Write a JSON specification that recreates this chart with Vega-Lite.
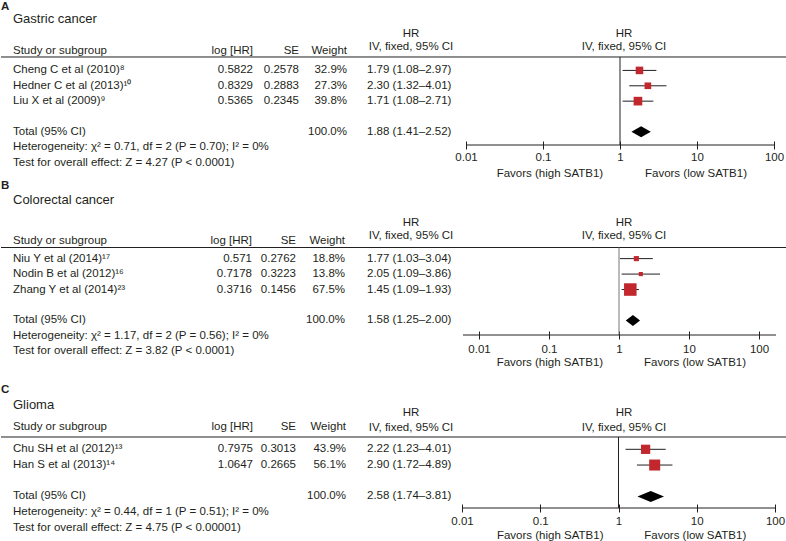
{
 "$schema": "https://vega.github.io/schema/vega-lite/v6.json",
 "padding": 0,
 "autosize": {"type": "pad"},
 "spacing": 0,
 "bounds": "flush",
 "config": {
  "view": {"stroke": null},
  "text": {"font": "Liberation Sans", "fontSize": 11.5, "fill": "#231f20"},
  "axis": {"labelFont": "Liberation Sans"}
 },
 "datasets": {
  "gastric": [
   {"line": 1, "kind": "study", "study": "Cheng C et al (2010)⁸", "loghr": 0.5822, "se": 0.2578, "w": 0.329, "ci": "1.79 (1.08–2.97)", "hr": 1.79, "lo": 1.08, "hi": 2.97},
   {"line": 2, "kind": "study", "study": "Hedner C et al (2013)¹⁰", "loghr": 0.8329, "se": 0.2883, "w": 0.273, "ci": "2.30 (1.32–4.01)", "hr": 2.30, "lo": 1.32, "hi": 4.01},
   {"line": 3, "kind": "study", "study": "Liu X et al (2009)⁹", "loghr": 0.5365, "se": 0.2345, "w": 0.398, "ci": "1.71 (1.08–2.71)", "hr": 1.71, "lo": 1.08, "hi": 2.71},
   {"line": 5, "kind": "total", "study": "Total (95% CI)", "w": 1.0, "ci": "1.88 (1.41–2.52)", "hr": 1.88, "lo": 1.41, "hi": 2.52},
   {"line": 6, "kind": "note", "study": "Heterogeneity: χ² = 0.71, df = 2 (P = 0.70); I² = 0%"},
   {"line": 7, "kind": "note", "study": "Test for overall effect: Z = 4.27 (P < 0.0001)"}
  ],
  "colorectal": [
   {"line": 1, "kind": "study", "study": "Niu Y et al (2014)¹⁷", "loghr": 0.571, "se": 0.2762, "w": 0.188, "ci": "1.77 (1.03–3.04)", "hr": 1.77, "lo": 1.03, "hi": 3.04},
   {"line": 2, "kind": "study", "study": "Nodin B et al (2012)¹⁶", "loghr": 0.7178, "se": 0.3223, "w": 0.138, "ci": "2.05 (1.09–3.86)", "hr": 2.05, "lo": 1.09, "hi": 3.86},
   {"line": 3, "kind": "study", "study": "Zhang Y et al (2014)²³", "loghr": 0.3716, "se": 0.1456, "w": 0.675, "ci": "1.45 (1.09–1.93)", "hr": 1.45, "lo": 1.09, "hi": 1.93},
   {"line": 5, "kind": "total", "study": "Total (95% CI)", "w": 1.0, "ci": "1.58 (1.25–2.00)", "hr": 1.58, "lo": 1.25, "hi": 2.00},
   {"line": 6, "kind": "note", "study": "Heterogeneity: χ² = 1.17, df = 2 (P = 0.56); I² = 0%"},
   {"line": 7, "kind": "note", "study": "Test for overall effect: Z = 3.82 (P < 0.0001)"}
  ],
  "glioma": [
   {"line": 1, "kind": "study", "study": "Chu SH et al (2012)¹³", "loghr": 0.7975, "se": 0.3013, "w": 0.439, "ci": "2.22 (1.23–4.01)", "hr": 2.22, "lo": 1.23, "hi": 4.01},
   {"line": 2, "kind": "study", "study": "Han S et al (2013)¹⁴", "loghr": 1.0647, "se": 0.2665, "w": 0.561, "ci": "2.90 (1.72–4.89)", "hr": 2.90, "lo": 1.72, "hi": 4.89},
   {"line": 4, "kind": "total", "study": "Total (95% CI)", "w": 1.0, "ci": "2.58 (1.74–3.81)", "hr": 2.58, "lo": 1.74, "hi": 3.81},
   {"line": 5, "kind": "note", "study": "Heterogeneity: χ² = 0.44, df = 1 (P = 0.51); I² = 0%"},
   {"line": 6, "kind": "note", "study": "Test for overall effect: Z = 4.75 (P < 0.00001)"}
  ],
  "panels": [
   {"panel": "A", "name": "Gastric cancer"},
   {"panel": "B", "name": "Colorectal cancer"},
   {"panel": "C", "name": "Glioma"}
  ],
  "heads": [
   {"row": "sub", "col": 1, "txt": "Study or subgroup"},
   {"row": "sub", "col": 2, "txt": "log [HR]"},
   {"row": "sub", "col": 3, "txt": "SE"},
   {"row": "sub", "col": 4, "txt": "Weight"},
   {"row": "hr", "col": 6, "txt": "HR"},
   {"row": "hr", "col": 7, "txt": "HR"},
   {"row": "iv", "col": 6, "txt": "IV, fixed, 95% CI"},
   {"row": "iv", "col": 7, "txt": "IV, fixed, 95% CI"}
  ],
  "one": [{"k": 1}]
 },
 "vconcat": [
  {
   "width": 786, "height": 143,
   "resolve": {"scale": {"x": "independent"}},
   "layer": [
    {"layer": [
     {"data": {"name": "gastric"},
      "mark": {"type": "text", "align": "left", "baseline": "middle"},
      "encoding": {"x": {"datum": 1, "type": "quantitative", "scale": {"domain": [0,1,2,3,4,5,6,7,8], "range": [0,12,252,298,346,366,410,623,786], "nice": false, "zero": false}, "axis": null},
       "y": {"field": "line", "type": "quantitative", "scale": {"domain": [-3.454, 5.855], "reverse": true, "nice": false, "zero": false}, "axis": null}, "text": {"field": "study", "type": "nominal"}}},
     {"data": {"name": "gastric"}, "transform": [{"filter": "datum.kind == 'study'"}],
      "mark": {"type": "text", "align": "right", "baseline": "middle"},
      "encoding": {"x": {"datum": 2, "type": "quantitative", "scale": {"domain": [0,1,2,3,4,5,6,7,8], "range": [0,12,252,298,346,366,410,623,786], "nice": false, "zero": false}, "axis": null},
       "y": {"field": "line", "type": "quantitative", "scale": {"domain": [-3.454, 5.855], "reverse": true, "nice": false, "zero": false}, "axis": null}, "text": {"field": "loghr", "type": "nominal"}}},
     {"data": {"name": "gastric"}, "transform": [{"filter": "datum.kind == 'study'"}],
      "mark": {"type": "text", "align": "right", "baseline": "middle"},
      "encoding": {"x": {"datum": 3, "type": "quantitative", "scale": {"domain": [0,1,2,3,4,5,6,7,8], "range": [0,12,252,298,346,366,410,623,786], "nice": false, "zero": false}, "axis": null},
       "y": {"field": "line", "type": "quantitative", "scale": {"domain": [-3.454, 5.855], "reverse": true, "nice": false, "zero": false}, "axis": null}, "text": {"field": "se", "type": "nominal"}}},
     {"data": {"name": "gastric"}, "transform": [{"filter": "datum.kind != 'note'"}],
      "mark": {"type": "text", "align": "right", "baseline": "middle"},
      "encoding": {"x": {"datum": 4, "type": "quantitative", "scale": {"domain": [0,1,2,3,4,5,6,7,8], "range": [0,12,252,298,346,366,410,623,786], "nice": false, "zero": false}, "axis": null},
       "y": {"field": "line", "type": "quantitative", "scale": {"domain": [-3.454, 5.855], "reverse": true, "nice": false, "zero": false}, "axis": null}, "text": {"field": "w", "type": "quantitative", "format": ".1%"}}},
     {"data": {"name": "gastric"}, "transform": [{"filter": "datum.kind != 'note'"}],
      "mark": {"type": "text", "align": "left", "baseline": "middle"},
      "encoding": {"x": {"datum": 5, "type": "quantitative", "scale": {"domain": [0,1,2,3,4,5,6,7,8], "range": [0,12,252,298,346,366,410,623,786], "nice": false, "zero": false}, "axis": null},
       "y": {"field": "line", "type": "quantitative", "scale": {"domain": [-3.454, 5.855], "reverse": true, "nice": false, "zero": false}, "axis": null}, "text": {"field": "ci", "type": "nominal"}}},
     {"data": {"name": "one"},
      "mark": {"type": "rule", "color": "#231f20", "strokeWidth": 1},
      "encoding": {"x": {"datum": 0, "type": "quantitative", "scale": {"domain": [0,1,2,3,4,5,6,7,8], "range": [0,12,252,298,346,366,410,623,786], "nice": false, "zero": false}, "axis": null}, "x2": {"datum": 8},
       "y": {"datum": 0.126, "type": "quantitative", "scale": {"domain": [-3.454, 5.855], "reverse": true, "nice": false, "zero": false}, "axis": null}}},
     {"data": {"name": "panels"}, "transform": [{"filter": "datum.panel == 'A'"}],
      "mark": {"type": "text", "align": "left", "baseline": "middle", "fontWeight": "bold", "fontSize": 11.5},
      "encoding": {"x": {"datum": 0, "type": "quantitative", "scale": {"domain": [0,1,2,3,4,5,6,7,8], "range": [0,12,252,298,346,366,410,623,786], "nice": false, "zero": false}, "axis": null},
       "y": {"datum": -3.16, "type": "quantitative", "scale": {"domain": [-3.454, 5.855], "reverse": true, "nice": false, "zero": false}, "axis": null}, "text": {"field": "panel", "type": "nominal"}}},
     {"data": {"name": "panels"}, "transform": [{"filter": "datum.panel == 'A'"}],
      "mark": {"type": "text", "align": "left", "baseline": "middle", "fontSize": 13},
      "encoding": {"x": {"datum": 1, "type": "quantitative", "scale": {"domain": [0,1,2,3,4,5,6,7,8], "range": [0,12,252,298,346,366,410,623,786], "nice": false, "zero": false}, "axis": null},
       "y": {"datum": -2.315, "type": "quantitative", "scale": {"domain": [-3.454, 5.855], "reverse": true, "nice": false, "zero": false}, "axis": null}, "text": {"field": "name", "type": "nominal"}}},
     {"data": {"name": "heads"}, "transform": [{"filter": "datum.row == 'sub' && datum.col == 1"}],
      "mark": {"type": "text", "align": "left", "baseline": "middle"},
      "encoding": {"x": {"field": "col", "type": "quantitative", "scale": {"domain": [0,1,2,3,4,5,6,7,8], "range": [0,12,252,298,346,366,410,623,786], "nice": false, "zero": false}, "axis": null},
       "y": {"datum": -0.264, "type": "quantitative", "scale": {"domain": [-3.454, 5.855], "reverse": true, "nice": false, "zero": false}, "axis": null}, "text": {"field": "txt", "type": "nominal"}}},
     {"data": {"name": "heads"}, "transform": [{"filter": "datum.row == 'sub' && datum.col > 1"}],
      "mark": {"type": "text", "align": "right", "baseline": "middle"},
      "encoding": {"x": {"field": "col", "type": "quantitative", "scale": {"domain": [0,1,2,3,4,5,6,7,8], "range": [0,12,252,298,346,366,410,623,786], "nice": false, "zero": false}, "axis": null},
       "y": {"datum": -0.264, "type": "quantitative", "scale": {"domain": [-3.454, 5.855], "reverse": true, "nice": false, "zero": false}, "axis": null}, "text": {"field": "txt", "type": "nominal"}}},
     {"data": {"name": "heads"}, "transform": [{"filter": "datum.row == 'hr'"}],
      "mark": {"type": "text", "align": "center", "baseline": "middle"},
      "encoding": {"x": {"field": "col", "type": "quantitative", "scale": {"domain": [0,1,2,3,4,5,6,7,8], "range": [0,12,252,298,346,366,410,623,786], "nice": false, "zero": false}, "axis": null},
       "y": {"datum": -1.339, "type": "quantitative", "scale": {"domain": [-3.454, 5.855], "reverse": true, "nice": false, "zero": false}, "axis": null}, "text": {"field": "txt", "type": "nominal"}}},
     {"data": {"name": "heads"}, "transform": [{"filter": "datum.row == 'iv'"}],
      "mark": {"type": "text", "align": "center", "baseline": "middle"},
      "encoding": {"x": {"field": "col", "type": "quantitative", "scale": {"domain": [0,1,2,3,4,5,6,7,8], "range": [0,12,252,298,346,366,410,623,786], "nice": false, "zero": false}, "axis": null},
       "y": {"datum": -0.525, "type": "quantitative", "scale": {"domain": [-3.454, 5.855], "reverse": true, "nice": false, "zero": false}, "axis": null}, "text": {"field": "txt", "type": "nominal"}}}
    ]},
    {"layer": [
     {"data": {"name": "gastric"}, "transform": [{"filter": "datum.kind == 'study'"}],
      "mark": {"type": "rule", "color": "#231f20", "strokeWidth": 1},
      "encoding": {"x": {"field": "lo", "type": "quantitative", "scale": {"type": "log", "domain": [0.01, 100], "range": [465, 773], "nice": false},
        "axis": {"values": [0.01, 0.1, 1, 10, 100], "format": "~g", "title": null, "domain": false, "grid": false, "tickSize": 8, "tickColor": "#231f20", "offset": -4, "labelFontSize": 11.5, "labelColor": "#231f20", "labelPadding": 2, "labelFlush": false, "labelOverlap": false}},
       "x2": {"field": "hi"},
       "y": {"field": "line", "type": "quantitative", "scale": {"domain": [-3.454, 5.855], "reverse": true, "nice": false, "zero": false}, "axis": null}}},
     {"data": {"name": "gastric"}, "transform": [{"filter": "datum.kind == 'study'"}],
      "mark": {"type": "point", "shape": "square", "filled": true, "color": "#c1272d", "opacity": 1},
      "encoding": {"x": {"field": "hr", "type": "quantitative", "scale": {"type": "log", "domain": [0.01, 100], "range": [465, 773], "nice": false}},
       "y": {"field": "line", "type": "quantitative", "scale": {"domain": [-3.454, 5.855], "reverse": true, "nice": false, "zero": false}, "axis": null},
       "size": {"field": "w", "type": "quantitative", "scale": {"type": "pow", "exponent": 1.4, "domain": [0, 0.7], "range": [0, 165]}, "legend": null}}},
     {"data": {"name": "gastric"}, "transform": [{"filter": "datum.kind == 'total'"}],
      "mark": {"type": "point", "shape": "M-1,0L0,-0.567L1,0L0,0.567Z", "size": 376, "filled": true, "color": "#000000", "opacity": 1},
      "encoding": {"x": {"field": "hr", "type": "quantitative", "scale": {"type": "log", "domain": [0.01, 100], "range": [465, 773], "nice": false}},
       "y": {"field": "line", "type": "quantitative", "scale": {"domain": [-3.454, 5.855], "reverse": true, "nice": false, "zero": false}, "axis": null}}},
     {"data": {"name": "one"},
      "mark": {"type": "rule", "color": "#231f20", "strokeWidth": 1},
      "encoding": {"x": {"datum": 1, "type": "quantitative", "scale": {"type": "log", "domain": [0.01, 100], "range": [465, 773], "nice": false}},
       "y": {"datum": 0.126, "type": "quantitative", "scale": {"domain": [-3.454, 5.855], "reverse": true, "nice": false, "zero": false}, "axis": null}, "y2": {"datum": 5.855}}},
     {"data": {"name": "one"},
      "mark": {"type": "rule", "color": "#231f20", "strokeWidth": 1},
      "encoding": {"x": {"datum": 0.01, "type": "quantitative", "scale": {"type": "log", "domain": [0.01, 100], "range": [465, 773], "nice": false}}, "x2": {"datum": 100},
       "y": {"datum": 5.855, "type": "quantitative", "scale": {"domain": [-3.454, 5.855], "reverse": true, "nice": false, "zero": false}, "axis": null}}},
     {"data": {"name": "one"},
      "mark": {"type": "text", "align": "center", "baseline": "middle"},
      "encoding": {"x": {"datum": 0.123, "type": "quantitative", "scale": {"type": "log", "domain": [0.01, 100], "range": [465, 773], "nice": false}},
       "y": {"datum": 7.743, "type": "quantitative", "scale": {"domain": [-3.454, 5.855], "reverse": true, "nice": false, "zero": false}, "axis": null}, "text": {"value": "Favors (high SATB1)"}}},
     {"data": {"name": "one"},
      "mark": {"type": "text", "align": "center", "baseline": "middle"},
      "encoding": {"x": {"datum": 9.7, "type": "quantitative", "scale": {"type": "log", "domain": [0.01, 100], "range": [465, 773], "nice": false}},
       "y": {"datum": 7.743, "type": "quantitative", "scale": {"domain": [-3.454, 5.855], "reverse": true, "nice": false, "zero": false}, "axis": null}, "text": {"value": "Favors (low SATB1)"}}}
    ]}
   ]
  },
  {
   "width": 786, "height": 190,
   "resolve": {"scale": {"x": "independent"}},
   "layer": [
    {"layer": [
     {"data": {"name": "colorectal"},
      "mark": {"type": "text", "align": "left", "baseline": "middle"},
      "encoding": {"x": {"datum": 1, "type": "quantitative", "scale": {"domain": [0,1,2,3,4,5,6,7,8], "range": [0,12,251,295,344,366,410,623,786], "nice": false, "zero": false}, "axis": null},
       "y": {"field": "line", "type": "quantitative", "scale": {"domain": [-6.349, 5.94], "reverse": true, "nice": false, "zero": false}, "axis": null}, "text": {"field": "study", "type": "nominal"}}},
     {"data": {"name": "colorectal"}, "transform": [{"filter": "datum.kind == 'study'"}],
      "mark": {"type": "text", "align": "right", "baseline": "middle"},
      "encoding": {"x": {"datum": 2, "type": "quantitative", "scale": {"domain": [0,1,2,3,4,5,6,7,8], "range": [0,12,251,295,344,366,410,623,786], "nice": false, "zero": false}, "axis": null},
       "y": {"field": "line", "type": "quantitative", "scale": {"domain": [-6.349, 5.94], "reverse": true, "nice": false, "zero": false}, "axis": null}, "text": {"field": "loghr", "type": "nominal"}}},
     {"data": {"name": "colorectal"}, "transform": [{"filter": "datum.kind == 'study'"}],
      "mark": {"type": "text", "align": "right", "baseline": "middle"},
      "encoding": {"x": {"datum": 3, "type": "quantitative", "scale": {"domain": [0,1,2,3,4,5,6,7,8], "range": [0,12,251,295,344,366,410,623,786], "nice": false, "zero": false}, "axis": null},
       "y": {"field": "line", "type": "quantitative", "scale": {"domain": [-6.349, 5.94], "reverse": true, "nice": false, "zero": false}, "axis": null}, "text": {"field": "se", "type": "nominal"}}},
     {"data": {"name": "colorectal"}, "transform": [{"filter": "datum.kind != 'note'"}],
      "mark": {"type": "text", "align": "right", "baseline": "middle"},
      "encoding": {"x": {"datum": 4, "type": "quantitative", "scale": {"domain": [0,1,2,3,4,5,6,7,8], "range": [0,12,251,295,344,366,410,623,786], "nice": false, "zero": false}, "axis": null},
       "y": {"field": "line", "type": "quantitative", "scale": {"domain": [-6.349, 5.94], "reverse": true, "nice": false, "zero": false}, "axis": null}, "text": {"field": "w", "type": "quantitative", "format": ".1%"}}},
     {"data": {"name": "colorectal"}, "transform": [{"filter": "datum.kind != 'note'"}],
      "mark": {"type": "text", "align": "left", "baseline": "middle"},
      "encoding": {"x": {"datum": 5, "type": "quantitative", "scale": {"domain": [0,1,2,3,4,5,6,7,8], "range": [0,12,251,295,344,366,410,623,786], "nice": false, "zero": false}, "axis": null},
       "y": {"field": "line", "type": "quantitative", "scale": {"domain": [-6.349, 5.94], "reverse": true, "nice": false, "zero": false}, "axis": null}, "text": {"field": "ci", "type": "nominal"}}},
     {"data": {"name": "one"},
      "mark": {"type": "rule", "color": "#231f20", "strokeWidth": 1},
      "encoding": {"x": {"datum": 0, "type": "quantitative", "scale": {"domain": [0,1,2,3,4,5,6,7,8], "range": [0,12,251,295,344,366,410,623,786], "nice": false, "zero": false}, "axis": null}, "x2": {"datum": 8},
       "y": {"datum": 0.281, "type": "quantitative", "scale": {"domain": [-6.349, 5.94], "reverse": true, "nice": false, "zero": false}, "axis": null}}},
     {"data": {"name": "panels"}, "transform": [{"filter": "datum.panel == 'B'"}],
      "mark": {"type": "text", "align": "left", "baseline": "middle", "fontWeight": "bold", "fontSize": 11.5},
      "encoding": {"x": {"datum": 0, "type": "quantitative", "scale": {"domain": [0,1,2,3,4,5,6,7,8], "range": [0,12,251,295,344,366,410,623,786], "nice": false, "zero": false}, "axis": null},
       "y": {"datum": -3.697, "type": "quantitative", "scale": {"domain": [-6.349, 5.94], "reverse": true, "nice": false, "zero": false}, "axis": null}, "text": {"field": "panel", "type": "nominal"}}},
     {"data": {"name": "panels"}, "transform": [{"filter": "datum.panel == 'B'"}],
      "mark": {"type": "text", "align": "left", "baseline": "middle", "fontSize": 13},
      "encoding": {"x": {"datum": 1, "type": "quantitative", "scale": {"domain": [0,1,2,3,4,5,6,7,8], "range": [0,12,251,295,344,366,410,623,786], "nice": false, "zero": false}, "axis": null},
       "y": {"datum": -2.792, "type": "quantitative", "scale": {"domain": [-6.349, 5.94], "reverse": true, "nice": false, "zero": false}, "axis": null}, "text": {"field": "name", "type": "nominal"}}},
     {"data": {"name": "heads"}, "transform": [{"filter": "datum.row == 'sub' && datum.col == 1"}],
      "mark": {"type": "text", "align": "left", "baseline": "middle"},
      "encoding": {"x": {"field": "col", "type": "quantitative", "scale": {"domain": [0,1,2,3,4,5,6,7,8], "range": [0,12,251,295,344,366,410,623,786], "nice": false, "zero": false}, "axis": null},
       "y": {"datum": -0.14, "type": "quantitative", "scale": {"domain": [-6.349, 5.94], "reverse": true, "nice": false, "zero": false}, "axis": null}, "text": {"field": "txt", "type": "nominal"}}},
     {"data": {"name": "heads"}, "transform": [{"filter": "datum.row == 'sub' && datum.col > 1"}],
      "mark": {"type": "text", "align": "right", "baseline": "middle"},
      "encoding": {"x": {"field": "col", "type": "quantitative", "scale": {"domain": [0,1,2,3,4,5,6,7,8], "range": [0,12,251,295,344,366,410,623,786], "nice": false, "zero": false}, "axis": null},
       "y": {"datum": -0.14, "type": "quantitative", "scale": {"domain": [-6.349, 5.94], "reverse": true, "nice": false, "zero": false}, "axis": null}, "text": {"field": "txt", "type": "nominal"}}},
     {"data": {"name": "heads"}, "transform": [{"filter": "datum.row == 'hr'"}],
      "mark": {"type": "text", "align": "center", "baseline": "middle"},
      "encoding": {"x": {"field": "col", "type": "quantitative", "scale": {"domain": [0,1,2,3,4,5,6,7,8], "range": [0,12,251,295,344,366,410,623,786], "nice": false, "zero": false}, "axis": null},
       "y": {"datum": -1.304, "type": "quantitative", "scale": {"domain": [-6.349, 5.94], "reverse": true, "nice": false, "zero": false}, "axis": null}, "text": {"field": "txt", "type": "nominal"}}},
     {"data": {"name": "heads"}, "transform": [{"filter": "datum.row == 'iv'"}],
      "mark": {"type": "text", "align": "center", "baseline": "middle"},
      "encoding": {"x": {"field": "col", "type": "quantitative", "scale": {"domain": [0,1,2,3,4,5,6,7,8], "range": [0,12,251,295,344,366,410,623,786], "nice": false, "zero": false}, "axis": null},
       "y": {"datum": -0.463, "type": "quantitative", "scale": {"domain": [-6.349, 5.94], "reverse": true, "nice": false, "zero": false}, "axis": null}, "text": {"field": "txt", "type": "nominal"}}}
    ]},
    {"layer": [
     {"data": {"name": "colorectal"}, "transform": [{"filter": "datum.kind == 'study'"}],
      "mark": {"type": "rule", "color": "#231f20", "strokeWidth": 1},
      "encoding": {"x": {"field": "lo", "type": "quantitative", "scale": {"type": "log", "domain": [0.005906, 174.9], "range": [462, 775], "nice": false},
        "axis": {"values": [0.01, 0.1, 1, 10, 100], "format": "~g", "title": null, "domain": false, "grid": false, "tickSize": 8, "tickColor": "#231f20", "offset": -4, "labelFontSize": 11.5, "labelColor": "#231f20", "labelPadding": 4, "labelFlush": false, "labelOverlap": false}},
       "x2": {"field": "hi"},
       "y": {"field": "line", "type": "quantitative", "scale": {"domain": [-6.349, 5.94], "reverse": true, "nice": false, "zero": false}, "axis": null}}},
     {"data": {"name": "colorectal"}, "transform": [{"filter": "datum.kind == 'study'"}],
      "mark": {"type": "point", "shape": "square", "filled": true, "color": "#c1272d", "opacity": 1},
      "encoding": {"x": {"field": "hr", "type": "quantitative", "scale": {"type": "log", "domain": [0.005906, 174.9], "range": [462, 775], "nice": false}},
       "y": {"field": "line", "type": "quantitative", "scale": {"domain": [-6.349, 5.94], "reverse": true, "nice": false, "zero": false}, "axis": null},
       "size": {"field": "w", "type": "quantitative", "scale": {"type": "pow", "exponent": 1.4, "domain": [0, 0.7], "range": [0, 165]}, "legend": null}}},
     {"data": {"name": "colorectal"}, "transform": [{"filter": "datum.kind == 'total'"}],
      "mark": {"type": "point", "shape": "M-1,0L0,-0.77L1,0L0,0.77Z", "size": 204, "filled": true, "color": "#000000", "opacity": 1},
      "encoding": {"x": {"field": "hr", "type": "quantitative", "scale": {"type": "log", "domain": [0.005906, 174.9], "range": [462, 775], "nice": false}},
       "y": {"field": "line", "type": "quantitative", "scale": {"domain": [-6.349, 5.94], "reverse": true, "nice": false, "zero": false}, "axis": null}}},
     {"data": {"name": "one"},
      "mark": {"type": "rule", "color": "#777777", "strokeWidth": 1},
      "encoding": {"x": {"datum": 1, "type": "quantitative", "scale": {"type": "log", "domain": [0.005906, 174.9], "range": [462, 775], "nice": false}},
       "y": {"datum": 0.281, "type": "quantitative", "scale": {"domain": [-6.349, 5.94], "reverse": true, "nice": false, "zero": false}, "axis": null}, "y2": {"datum": 5.94}}},
     {"data": {"name": "one"},
      "mark": {"type": "rule", "color": "#231f20", "strokeWidth": 1},
      "encoding": {"x": {"datum": 0.005906, "type": "quantitative", "scale": {"type": "log", "domain": [0.005906, 174.9], "range": [462, 775], "nice": false}}, "x2": {"datum": 174.9},
       "y": {"datum": 5.94, "type": "quantitative", "scale": {"domain": [-6.349, 5.94], "reverse": true, "nice": false, "zero": false}, "axis": null}}},
     {"data": {"name": "one"},
      "mark": {"type": "text", "align": "center", "baseline": "middle"},
      "encoding": {"x": {"datum": 0.103, "type": "quantitative", "scale": {"type": "log", "domain": [0.005906, 174.9], "range": [462, 775], "nice": false}},
       "y": {"datum": 7.752, "type": "quantitative", "scale": {"domain": [-6.349, 5.94], "reverse": true, "nice": false, "zero": false}, "axis": null}, "text": {"value": "Favors (high SATB1)"}}},
     {"data": {"name": "one"},
      "mark": {"type": "text", "align": "center", "baseline": "middle"},
      "encoding": {"x": {"datum": 12.2, "type": "quantitative", "scale": {"type": "log", "domain": [0.005906, 174.9], "range": [462, 775], "nice": false}},
       "y": {"datum": 7.752, "type": "quantitative", "scale": {"domain": [-6.349, 5.94], "reverse": true, "nice": false, "zero": false}, "axis": null}, "text": {"value": "Favors (low SATB1)"}}}
    ]}
   ]
  },
  {
   "width": 786, "height": 173,
   "resolve": {"scale": {"x": "independent"}},
   "layer": [
    {"layer": [
     {"data": {"name": "glioma"},
      "mark": {"type": "text", "align": "left", "baseline": "middle"},
      "encoding": {"x": {"datum": 1, "type": "quantitative", "scale": {"domain": [0,1,2,3,4,5,6,7,8], "range": [0,12,252,295,345,366,410,623,786], "nice": false, "zero": false}, "axis": null},
       "y": {"field": "line", "type": "quantitative", "scale": {"domain": [-6.272, 4.733], "reverse": true, "nice": false, "zero": false}, "axis": null}, "text": {"field": "study", "type": "nominal"}}},
     {"data": {"name": "glioma"}, "transform": [{"filter": "datum.kind == 'study'"}],
      "mark": {"type": "text", "align": "right", "baseline": "middle"},
      "encoding": {"x": {"datum": 2, "type": "quantitative", "scale": {"domain": [0,1,2,3,4,5,6,7,8], "range": [0,12,252,295,345,366,410,623,786], "nice": false, "zero": false}, "axis": null},
       "y": {"field": "line", "type": "quantitative", "scale": {"domain": [-6.272, 4.733], "reverse": true, "nice": false, "zero": false}, "axis": null}, "text": {"field": "loghr", "type": "nominal"}}},
     {"data": {"name": "glioma"}, "transform": [{"filter": "datum.kind == 'study'"}],
      "mark": {"type": "text", "align": "right", "baseline": "middle"},
      "encoding": {"x": {"datum": 3, "type": "quantitative", "scale": {"domain": [0,1,2,3,4,5,6,7,8], "range": [0,12,252,295,345,366,410,623,786], "nice": false, "zero": false}, "axis": null},
       "y": {"field": "line", "type": "quantitative", "scale": {"domain": [-6.272, 4.733], "reverse": true, "nice": false, "zero": false}, "axis": null}, "text": {"field": "se", "type": "nominal"}}},
     {"data": {"name": "glioma"}, "transform": [{"filter": "datum.kind != 'note'"}],
      "mark": {"type": "text", "align": "right", "baseline": "middle"},
      "encoding": {"x": {"datum": 4, "type": "quantitative", "scale": {"domain": [0,1,2,3,4,5,6,7,8], "range": [0,12,252,295,345,366,410,623,786], "nice": false, "zero": false}, "axis": null},
       "y": {"field": "line", "type": "quantitative", "scale": {"domain": [-6.272, 4.733], "reverse": true, "nice": false, "zero": false}, "axis": null}, "text": {"field": "w", "type": "quantitative", "format": ".1%"}}},
     {"data": {"name": "glioma"}, "transform": [{"filter": "datum.kind != 'note'"}],
      "mark": {"type": "text", "align": "left", "baseline": "middle"},
      "encoding": {"x": {"datum": 5, "type": "quantitative", "scale": {"domain": [0,1,2,3,4,5,6,7,8], "range": [0,12,252,295,345,366,410,623,786], "nice": false, "zero": false}, "axis": null},
       "y": {"field": "line", "type": "quantitative", "scale": {"domain": [-6.272, 4.733], "reverse": true, "nice": false, "zero": false}, "axis": null}, "text": {"field": "ci", "type": "nominal"}}},
     {"data": {"name": "one"},
      "mark": {"type": "rule", "color": "#231f20", "strokeWidth": 1},
      "encoding": {"x": {"datum": 0, "type": "quantitative", "scale": {"domain": [0,1,2,3,4,5,6,7,8], "range": [0,12,252,295,345,366,410,623,786], "nice": false, "zero": false}, "axis": null}, "x2": {"datum": 8},
       "y": {"datum": 0.216, "type": "quantitative", "scale": {"domain": [-6.272, 4.733], "reverse": true, "nice": false, "zero": false}, "axis": null}}},
     {"data": {"name": "panels"}, "transform": [{"filter": "datum.panel == 'C'"}],
      "mark": {"type": "text", "align": "left", "baseline": "middle", "fontWeight": "bold", "fontSize": 11.5},
      "encoding": {"x": {"datum": 0, "type": "quantitative", "scale": {"domain": [0,1,2,3,4,5,6,7,8], "range": [0,12,252,295,345,366,410,623,786], "nice": false, "zero": false}, "axis": null},
       "y": {"datum": -2.742, "type": "quantitative", "scale": {"domain": [-6.272, 4.733], "reverse": true, "nice": false, "zero": false}, "axis": null}, "text": {"field": "panel", "type": "nominal"}}},
     {"data": {"name": "panels"}, "transform": [{"filter": "datum.panel == 'C'"}],
      "mark": {"type": "text", "align": "left", "baseline": "middle", "fontSize": 13},
      "encoding": {"x": {"datum": 1, "type": "quantitative", "scale": {"domain": [0,1,2,3,4,5,6,7,8], "range": [0,12,252,295,345,366,410,623,786], "nice": false, "zero": false}, "axis": null},
       "y": {"datum": -1.819, "type": "quantitative", "scale": {"domain": [-6.272, 4.733], "reverse": true, "nice": false, "zero": false}, "axis": null}, "text": {"field": "name", "type": "nominal"}}},
     {"data": {"name": "heads"}, "transform": [{"filter": "datum.row == 'sub' && datum.col == 1"}],
      "mark": {"type": "text", "align": "left", "baseline": "middle"},
      "encoding": {"x": {"field": "col", "type": "quantitative", "scale": {"domain": [0,1,2,3,4,5,6,7,8], "range": [0,12,252,295,345,366,410,623,786], "nice": false, "zero": false}, "axis": null},
       "y": {"datum": -0.42, "type": "quantitative", "scale": {"domain": [-6.272, 4.733], "reverse": true, "nice": false, "zero": false}, "axis": null}, "text": {"field": "txt", "type": "nominal"}}},
     {"data": {"name": "heads"}, "transform": [{"filter": "datum.row == 'sub' && datum.col > 1"}],
      "mark": {"type": "text", "align": "right", "baseline": "middle"},
      "encoding": {"x": {"field": "col", "type": "quantitative", "scale": {"domain": [0,1,2,3,4,5,6,7,8], "range": [0,12,252,295,345,366,410,623,786], "nice": false, "zero": false}, "axis": null},
       "y": {"datum": -0.42, "type": "quantitative", "scale": {"domain": [-6.272, 4.733], "reverse": true, "nice": false, "zero": false}, "axis": null}, "text": {"field": "txt", "type": "nominal"}}},
     {"data": {"name": "heads"}, "transform": [{"filter": "datum.row == 'hr'"}],
      "mark": {"type": "text", "align": "center", "baseline": "middle"},
      "encoding": {"x": {"field": "col", "type": "quantitative", "scale": {"domain": [0,1,2,3,4,5,6,7,8], "range": [0,12,252,295,345,366,410,623,786], "nice": false, "zero": false}, "axis": null},
       "y": {"datum": -1.31, "type": "quantitative", "scale": {"domain": [-6.272, 4.733], "reverse": true, "nice": false, "zero": false}, "axis": null}, "text": {"field": "txt", "type": "nominal"}}},
     {"data": {"name": "heads"}, "transform": [{"filter": "datum.row == 'iv'"}],
      "mark": {"type": "text", "align": "center", "baseline": "middle"},
      "encoding": {"x": {"field": "col", "type": "quantitative", "scale": {"domain": [0,1,2,3,4,5,6,7,8], "range": [0,12,252,295,345,366,410,623,786], "nice": false, "zero": false}, "axis": null},
       "y": {"datum": -0.356, "type": "quantitative", "scale": {"domain": [-6.272, 4.733], "reverse": true, "nice": false, "zero": false}, "axis": null}, "text": {"field": "txt", "type": "nominal"}}}
    ]},
    {"layer": [
     {"data": {"name": "glioma"}, "transform": [{"filter": "datum.kind == 'study'"}],
      "mark": {"type": "rule", "color": "#231f20", "strokeWidth": 1},
      "encoding": {"x": {"field": "lo", "type": "quantitative", "scale": {"type": "log", "domain": [0.01, 100], "range": [461, 774], "nice": false},
        "axis": {"values": [0.01, 0.1, 1, 10, 100], "format": "~g", "title": null, "domain": false, "grid": false, "tickSize": 8, "tickColor": "#231f20", "offset": -4, "labelFontSize": 11.5, "labelColor": "#231f20", "labelPadding": 3, "labelFlush": false, "labelOverlap": false}},
       "x2": {"field": "hi"},
       "y": {"field": "line", "type": "quantitative", "scale": {"domain": [-6.272, 4.733], "reverse": true, "nice": false, "zero": false}, "axis": null}}},
     {"data": {"name": "glioma"}, "transform": [{"filter": "datum.kind == 'study'"}],
      "mark": {"type": "point", "shape": "square", "filled": true, "color": "#c1272d", "opacity": 1},
      "encoding": {"x": {"field": "hr", "type": "quantitative", "scale": {"type": "log", "domain": [0.01, 100], "range": [461, 774], "nice": false}},
       "y": {"field": "line", "type": "quantitative", "scale": {"domain": [-6.272, 4.733], "reverse": true, "nice": false, "zero": false}, "axis": null},
       "size": {"field": "w", "type": "quantitative", "scale": {"type": "pow", "exponent": 1.4, "domain": [0, 0.7], "range": [0, 165]}, "legend": null}}},
     {"data": {"name": "glioma"}, "transform": [{"filter": "datum.kind == 'total'"}],
      "mark": {"type": "point", "shape": "M-1,0L0,-0.415L1,0L0,0.415Z", "size": 704, "filled": true, "color": "#000000", "opacity": 1},
      "encoding": {"x": {"field": "hr", "type": "quantitative", "scale": {"type": "log", "domain": [0.01, 100], "range": [461, 774], "nice": false}},
       "y": {"field": "line", "type": "quantitative", "scale": {"domain": [-6.272, 4.733], "reverse": true, "nice": false, "zero": false}, "axis": null}}},
     {"data": {"name": "one"},
      "mark": {"type": "rule", "color": "#231f20", "strokeWidth": 1},
      "encoding": {"x": {"datum": 1, "type": "quantitative", "scale": {"type": "log", "domain": [0.01, 100], "range": [461, 774], "nice": false}},
       "y": {"datum": 0.216, "type": "quantitative", "scale": {"domain": [-6.272, 4.733], "reverse": true, "nice": false, "zero": false}, "axis": null}, "y2": {"datum": 4.733}}},
     {"data": {"name": "one"},
      "mark": {"type": "rule", "color": "#231f20", "strokeWidth": 1},
      "encoding": {"x": {"datum": 0.01, "type": "quantitative", "scale": {"type": "log", "domain": [0.01, 100], "range": [461, 774], "nice": false}}, "x2": {"datum": 100},
       "y": {"datum": 4.733, "type": "quantitative", "scale": {"domain": [-6.272, 4.733], "reverse": true, "nice": false, "zero": false}, "axis": null}}},
     {"data": {"name": "one"},
      "mark": {"type": "text", "align": "center", "baseline": "middle"},
      "encoding": {"x": {"datum": 0.134, "type": "quantitative", "scale": {"type": "log", "domain": [0.01, 100], "range": [461, 774], "nice": false}},
       "y": {"datum": 6.514, "type": "quantitative", "scale": {"domain": [-6.272, 4.733], "reverse": true, "nice": false, "zero": false}, "axis": null}, "text": {"value": "Favors (high SATB1)"}}},
     {"data": {"name": "one"},
      "mark": {"type": "text", "align": "center", "baseline": "middle"},
      "encoding": {"x": {"datum": 9.57, "type": "quantitative", "scale": {"type": "log", "domain": [0.01, 100], "range": [461, 774], "nice": false}},
       "y": {"datum": 6.514, "type": "quantitative", "scale": {"domain": [-6.272, 4.733], "reverse": true, "nice": false, "zero": false}, "axis": null}, "text": {"value": "Favors (low SATB1)"}}}
    ]}
   ]
  }
 ]
}
